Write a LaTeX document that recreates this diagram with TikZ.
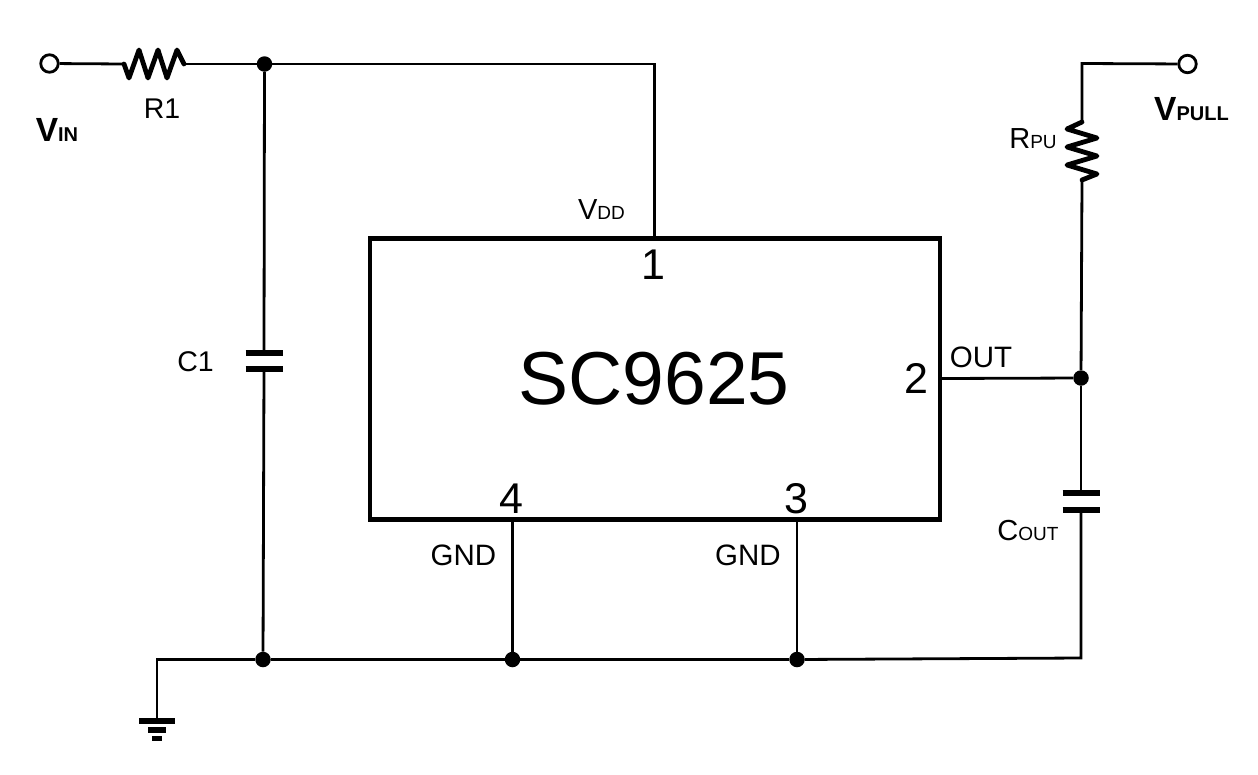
\documentclass[tikz,border=0pt]{standalone}
\usepackage{fontspec}
\usetikzlibrary{calc}
\setmainfont{Liberation Sans}
\newcommand{\fs}[1]{\fontsize{#1}{#1}\selectfont}
\newcommand{\lab}[2]{{\fs{29}#1\fs{19}#2}}
\newcommand{\blab}[2]{{\bfseries\fs{33.5}#1\fs{20}#2}}
\tikzset{
  wire/.style={line width=2.8pt,line cap=butt,line join=miter},
  zig/.style={line width=4.8pt,line join=round,line cap=round},
  plate/.style={line width=5.4pt},
  dot/.style={circle,fill=black,inner sep=0pt,minimum size=15.5pt},
  term/.style={circle,draw=black,fill=white,line width=2.8pt,inner sep=0pt,minimum size=17.5pt},
  txt/.style={inner sep=0pt,anchor=base},
  chip/.style={draw=black,line width=4.8pt,outer sep=0pt,minimum width=570pt,minimum height=281pt,inner sep=0pt,anchor=north west}
}
\begin{document}
\begin{tikzpicture}[x=1pt,y=-1pt]
\useasboundingbox (0,0) rectangle (1258,774);
% chip
\node[chip] (ic) at (370,238.5) {};
\node[txt] (name) at (654,404) {\fs{75}SC9625};
\node[txt] (p1) at (653.5,279) {\fs{43}1};
\node[txt] (p2) at (916,393) {\fs{43}2};
\node[txt] (p3) at (796,513) {\fs{43}3};
\node[txt] (p4) at (511,513) {\fs{43}4};
% terminals and junctions
\node[term] (vin) at (49.5,63.5) {};
\node[term] (vpull) at (1187.5,64) {};
\node[dot] (jt) at (264.5,64) {};
\node[dot] (jo) at (1081,378) {};
\node[dot] (jg1) at (263,659.5) {};
\node[dot] (jg4) at (512.5,659.5) {};
\node[dot] (jg3) at (797,659.5) {};
% anchors
\coordinate (r1a) at (124,64);
\coordinate (r1b) at (184,64);
\coordinate (rpa) at (1082,122);
\coordinate (rpb) at (1082,180);
\coordinate (c1a) at (264,353);
\coordinate (c1b) at (264,369);
\coordinate (coa) at (1081,493);
\coordinate (cob) at (1081,510);
\coordinate (pin1) at (654.5,238);
\coordinate (pin2) at (940,378.5);
\coordinate (pin3) at (797,519);
\coordinate (pin4) at (512.5,519);
\coordinate (gnd) at (157,720.5);
% wires
\draw[wire] (vin) -- (r1a);
\draw[wire] (r1b) -- (jt);
\draw[wire] (jt) -- (654.5,64) -- (pin1);
\draw[wire] (jt) -- (c1a);
\draw[wire] (c1b) -- (jg1);
\draw[wire] (vpull) -- (1082,63.5) -- (rpa);
\draw[wire] (rpb) -- (jo);
\draw[wire] (pin2) -- (jo);
\draw[wire] (jo) -- (coa);
\draw[wire] (cob) -- (1081,658) -- (jg3);
\draw[wire] (pin3) -- (jg3);
\draw[wire] (pin4) -- (jg4);
\draw[wire] (jg3) -- (jg4) -- (jg1) -- (157,659.5) -- (gnd);
% resistors
\draw[zig] (r1a) -- (129,78) -- (139,50) -- (148,78) -- (158,50) -- (167,78) -- (177,50) -- (r1b);
\draw[zig] (rpa) -- (1067,129) -- (1097,138) -- (1067,147) -- (1097,156) -- (1067,165) -- (1097,174) -- (rpb);
% capacitors
\draw[plate] ($(c1a)+(-18.5,0)$) -- ($(c1a)+(18.5,0)$);
\draw[plate] ($(c1b)+(-18.5,0)$) -- ($(c1b)+(18.5,0)$);
\draw[plate] ($(coa)+(-18.5,0)$) -- ($(coa)+(18.5,0)$);
\draw[plate] ($(cob)+(-18.5,0)$) -- ($(cob)+(18.5,0)$);
% ground
\draw[plate] (139,721) -- (175,721);
\draw[plate] (148,730) -- (166,730);
\draw[plate] (152,738.5) -- (162,738.5);
% labels
\node[txt] (lvin) at (57,141.5) {\blab{V}{IN}};
\node[txt] (lvpull) at (1191.5,120) {\blab{V}{PULL}};
\node[txt] (lr1) at (162,118.5) {\fs{28.5}R1};
\node[txt] (lrpu) at (1033,148) {\lab{R}{PU}};
\node[txt] (lc1) at (195.5,371.5) {\fs{28.5}C1};
\node[txt] (lcout) at (1028,540) {\lab{C}{OUT}};
\node[txt] (lvdd) at (601.5,219.5) {\lab{V}{DD}};
\node[txt] (lout) at (981,367) {\fs{29.5}OUT};
\node[txt] (lg4) at (463.5,565.5) {\fs{29.5}GND};
\node[txt] (lg3) at (748,565.5) {\fs{29.5}GND};
\end{tikzpicture}
\end{document}
